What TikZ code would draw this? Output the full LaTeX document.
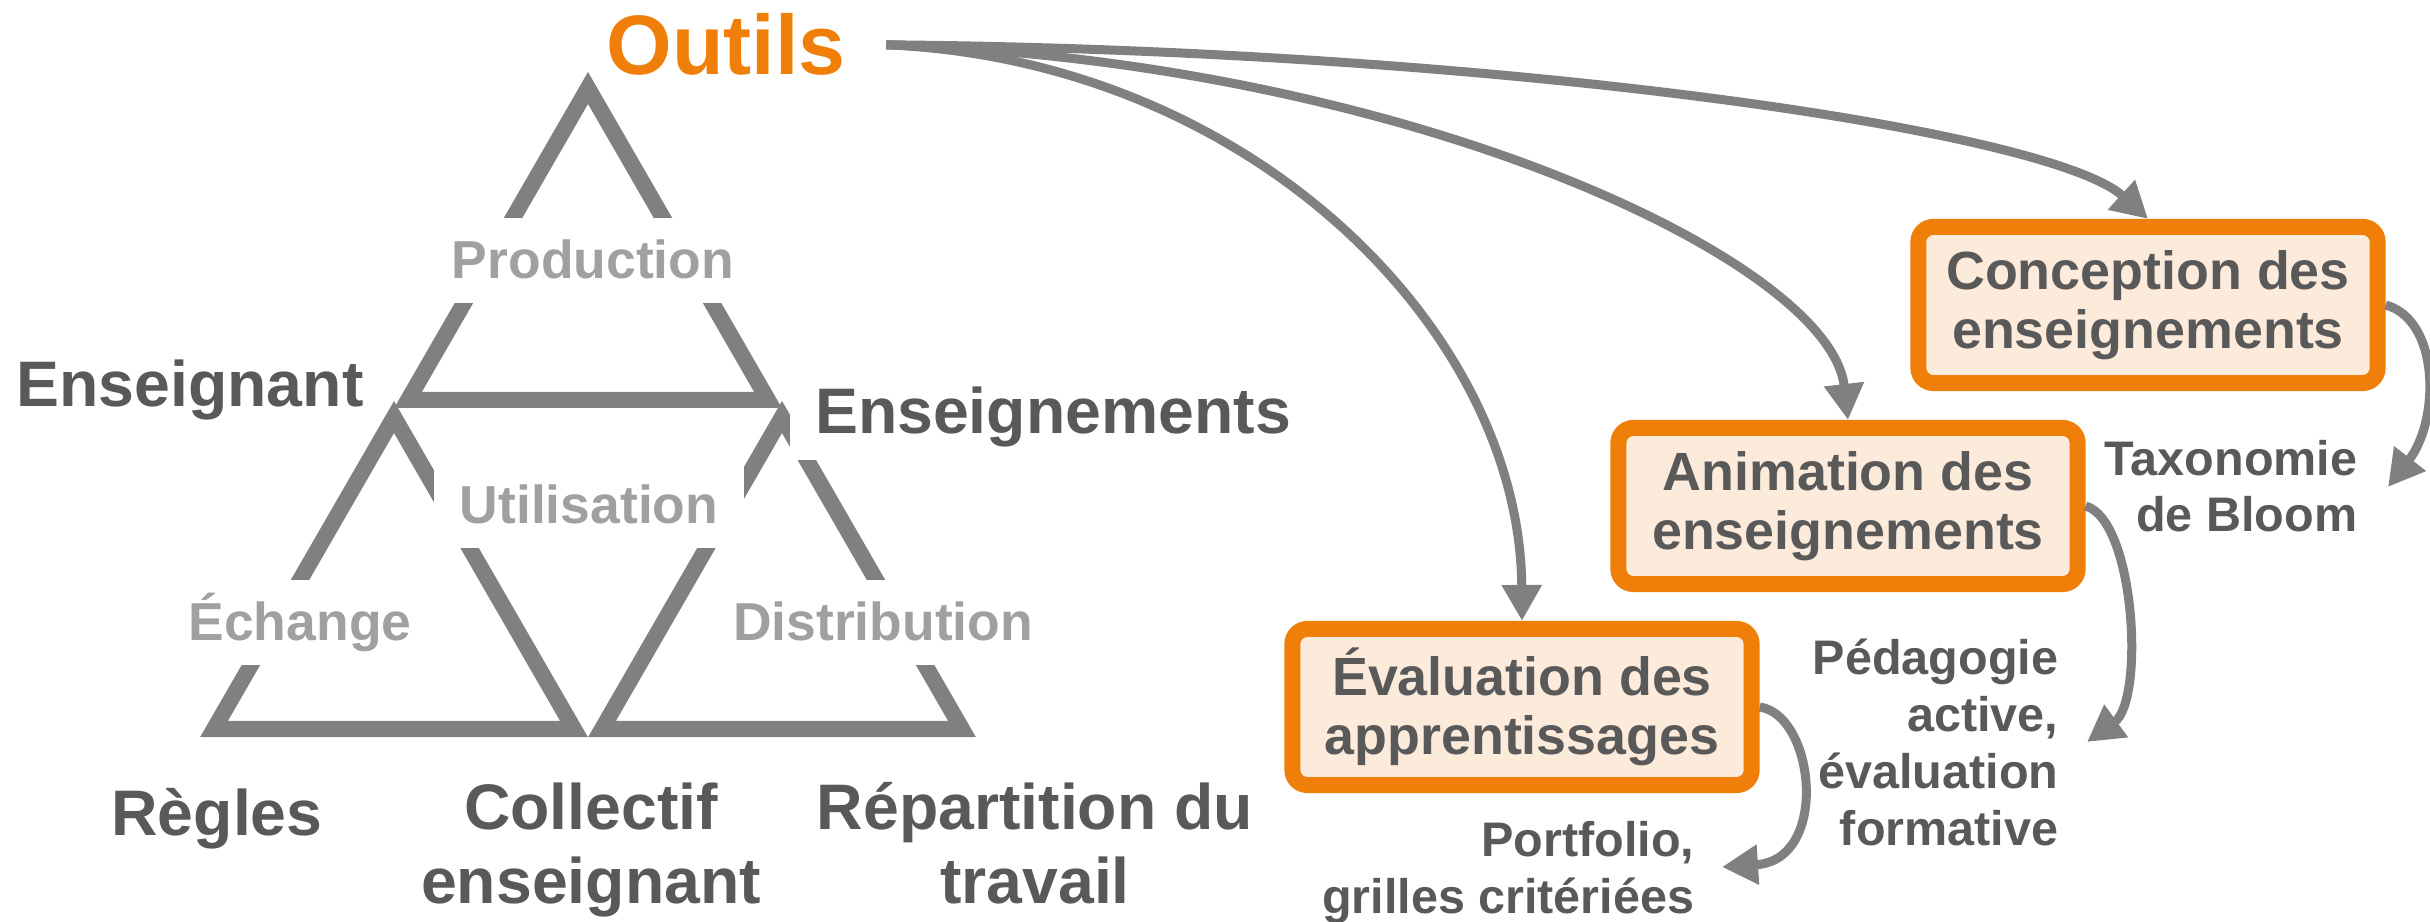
\documentclass[tikz,border=0pt]{standalone}
\usepackage{fontspec}
\setmainfont{Liberation Sans}
\usetikzlibrary{arrows.meta}
\definecolor{dgray}{HTML}{595959}
\definecolor{lgray}{HTML}{A0A0A0}
\definecolor{tgray}{HTML}{808080}
\definecolor{orng}{HTML}{F07F0A}
\definecolor{peach}{HTML}{FCEADB}

\begin{document}
\begin{tikzpicture}[x=0.01cm,y=-0.01cm,
trait/.style={draw=tgray,line width=0.16cm,line join=miter},
fleche/.style={draw=tgray,line width=0.09cm,-{Triangle[length=0.36cm,width=0.38cm]}},
pole/.style={text=dgray,font=\fontsize{18.3}{21}\selectfont\bfseries,align=center,inner xsep=0.254cm,inner ysep=0.127cm},
lien/.style={text=lgray,fill=white,font=\fontsize{15.2}{17}\selectfont\bfseries,inner xsep=0.254cm,inner ysep=0.127cm,text height=13.8pt,text depth=3.2pt},
usage/.style={rounded corners=0.15cm,draw=orng,line width=0.16cm,fill=peach,text=dgray,font=\fontsize{15.3}{16.8}\selectfont\bfseries,align=center,minimum width=4.59cm,minimum height=1.56cm},
outil/.style={text=dgray,font=\fontsize{13.8}{16.2}\selectfont\bfseries,align=right,inner sep=0pt}]
\useasboundingbox (0,0) rectangle (2430,922);
\draw[trait] (588,88) -- (768,400) -- (408,400) -- cycle;
\draw[trait] (394,417) -- (574,729) -- (214,729) -- cycle;
\draw[trait] (782,417) -- (962,729) -- (602,729) -- cycle;

\node[pole,text=orng,font=\fontsize{24}{28}\selectfont\bfseries,inner xsep=0.4cm,anchor=base] (outils) at (726,75) {Outils};
\node[pole,anchor=base] (enseignant) at (190,407) {Enseignant};
\node[pole,fill=white,anchor=base] (objet) at (1053,434) {Enseignements};
\node[pole,anchor=base] (regles) at (217,835) {Règles};
\node[pole,anchor=base] (collectif) at (591,903) {Collectif\\enseignant};
\node[pole,anchor=base] (division) at (1035,903) {Répartition du\\travail};
\node[lien,anchor=base] (production) at (593,279) {Production};
\node[lien,anchor=base] (utilisation) at (589,524) {Utilisation};
\node[lien,anchor=base] (echange) at (300,641) {Échange};
\node[lien,anchor=base] (distribution) at (883,641) {Distribution};

\node[usage] (concep) at (2148,305) {Conception des\\enseignements};
\node[usage] (anim) at (1848,506) {Animation des\\enseignements};
\node[usage] (evalu) at (1522,707) {Évaluation des\\apprentissages};
\node[outil,anchor=base east] (bloom) at (2358,532) {Taxonomie\\de Bloom};
\node[outil,anchor=base east] (pedago) at (2059,845) {Pédagogie\\active,\\évaluation\\formative};
\node[outil,anchor=base east] (portf) at (1695,913) {Portfolio,\\grilles critériées};
\coordinate (bloomtip) at (2388,487);
\coordinate (pedagotip) at (2087,742);
\coordinate (portftip) at (1722,867);

\draw[fleche] (outils.east) .. controls (1250,60) and (1520,330) .. (evalu.north);
\draw[fleche] (outils.east) .. controls (1400,60) and (1830,260) .. (anim.north);
\draw[fleche] (outils.east) .. controls (1500,50) and (2050,130) .. (concep.north);
\draw[fleche] (concep.east) .. controls (2440,320) and (2440,420) .. (bloomtip);
\draw[fleche] (anim.east) .. controls (2135,520) and (2145,700) .. (pedagotip);
\draw[fleche] (evalu.east) .. controls (1815,715) and (1830,860) .. (portftip);
\end{tikzpicture}
\end{document}
